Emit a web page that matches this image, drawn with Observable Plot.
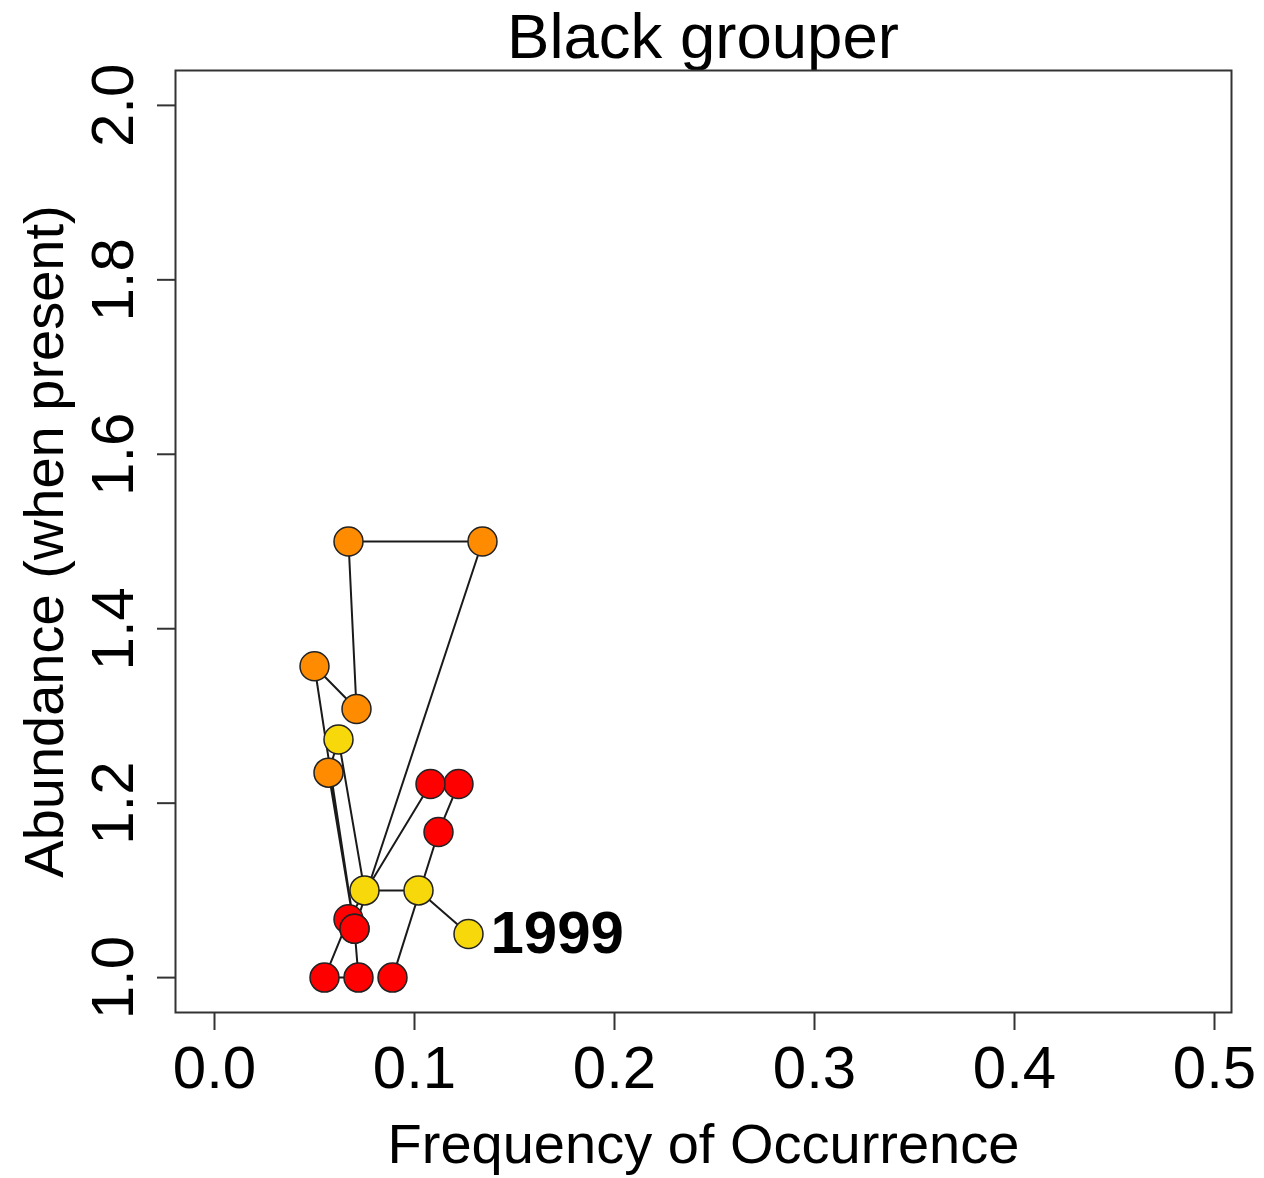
<!DOCTYPE html>
<html>
<head>
<meta charset="utf-8">
<script src="https://cdn.jsdelivr.net/npm/d3@7"></script>
<script src="https://cdn.jsdelivr.net/npm/@observablehq/plot@0.6"></script>
<style>
  body { margin: 0; background: #fff; font-family: "Liberation Sans", Arial, sans-serif; }
  #wrap { width: 1264px; }
  #title { height: 69px; line-height: 72px; font-size: 63.5px; text-align: center;
           padding: 0 33px 0 175px; box-sizing: border-box; white-space: nowrap; color: #000; overflow: visible; }
  #chart svg { overflow: visible; display: block; }
</style>
</head>
<body>
<div id="wrap">
  <div id="title">Black grouper</div>
  <div id="chart"></div>
</div>
<script>
// Points in the order they are joined by the line (oldest first, 1999 last)
const freq  = [0.089, 0.112, 0.122, 0.108, 0.067, 0.055, 0.072, 0.070, 0.134, 0.067, 0.071, 0.050, 0.070, 0.057, 0.062, 0.075, 0.102, 0.127];
const abund = [1.000, 1.167, 1.222, 1.222, 1.067, 1.000, 1.000, 1.056, 1.500, 1.500, 1.308, 1.357, 1.056, 1.235, 1.273, 1.100, 1.100, 1.050];
const period = ["early","early","early","early","early","early","early","early",
                "middle","middle","middle","middle","early","middle",
                "late","late","late","late"];
const periods = ["early", "middle", "late"];
const periodColors = ["#ff0000", "#ff8c00", "#f7d80a"];
const labelYear = "1999";
const xTicks = [0.0, 0.1, 0.2, 0.3, 0.4, 0.5];
const yTicks = [1.0, 1.2, 1.4, 1.6, 1.8, 2.0];
const xLabel = "Frequency of Occurrence";
const yLabel = "Abundance (when present)";

const idx = d3.range(freq.length);
const last = idx.length - 1;
const fmt = d3.format(".1f");

const chart = Plot.plot({
  width: 1264,
  height: 1109,
  marginTop: 1,
  marginBottom: 166,
  marginLeft: 175,
  marginRight: 33,
  style: { fontFamily: "'Liberation Sans', Arial, sans-serif", background: "#fff", color: "#000", overflow: "visible" },
  x: { domain: [-0.0195, 0.5085] },
  y: { domain: [0.96, 2.04] },
  color: { domain: periods, range: periodColors },
  marks: [
    Plot.axisX({ ticks: xTicks, tickFormat: fmt, tickSize: 18, tickPadding: 15, fontSize: 60,
                 label: null, stroke: "#333", strokeWidth: 2, fill: "#000" }),
    Plot.axisY({ ticks: yTicks, tickFormat: fmt, tickRotate: -90, tickSize: 18, tickPadding: 25, fontSize: 60,
                 label: null, stroke: "#333", strokeWidth: 2, fill: "#000" }),
    Plot.text([xLabel], { text: d => d, frameAnchor: "bottom", lineAnchor: "bottom", dy: 150, fontSize: 56, fill: "#000" }),
    Plot.text([yLabel], { text: d => d, frameAnchor: "left", textAnchor: "middle", rotate: -90, lineAnchor: "bottom",
                          dx: -113, fontSize: 56, fill: "#000" }),
    Plot.line(idx, { x: i => freq[i], y: i => abund[i], stroke: "#1a1a1a", strokeWidth: 2 }),
    Plot.dot(idx, { x: i => freq[i], y: i => abund[i], fill: i => period[i], r: 14.5, stroke: "#222", strokeWidth: 1.5 }),
    Plot.text([last], { x: i => freq[i], y: i => abund[i], text: () => labelYear, textAnchor: "start",
                        lineAnchor: "middle", dx: 22, fontSize: 60, fontWeight: "bold", fill: "#000" }),
    Plot.frame({ stroke: "#333", strokeWidth: 2 })
  ]
});
document.getElementById("chart").appendChild(chart);
</script>
</body>
</html>
